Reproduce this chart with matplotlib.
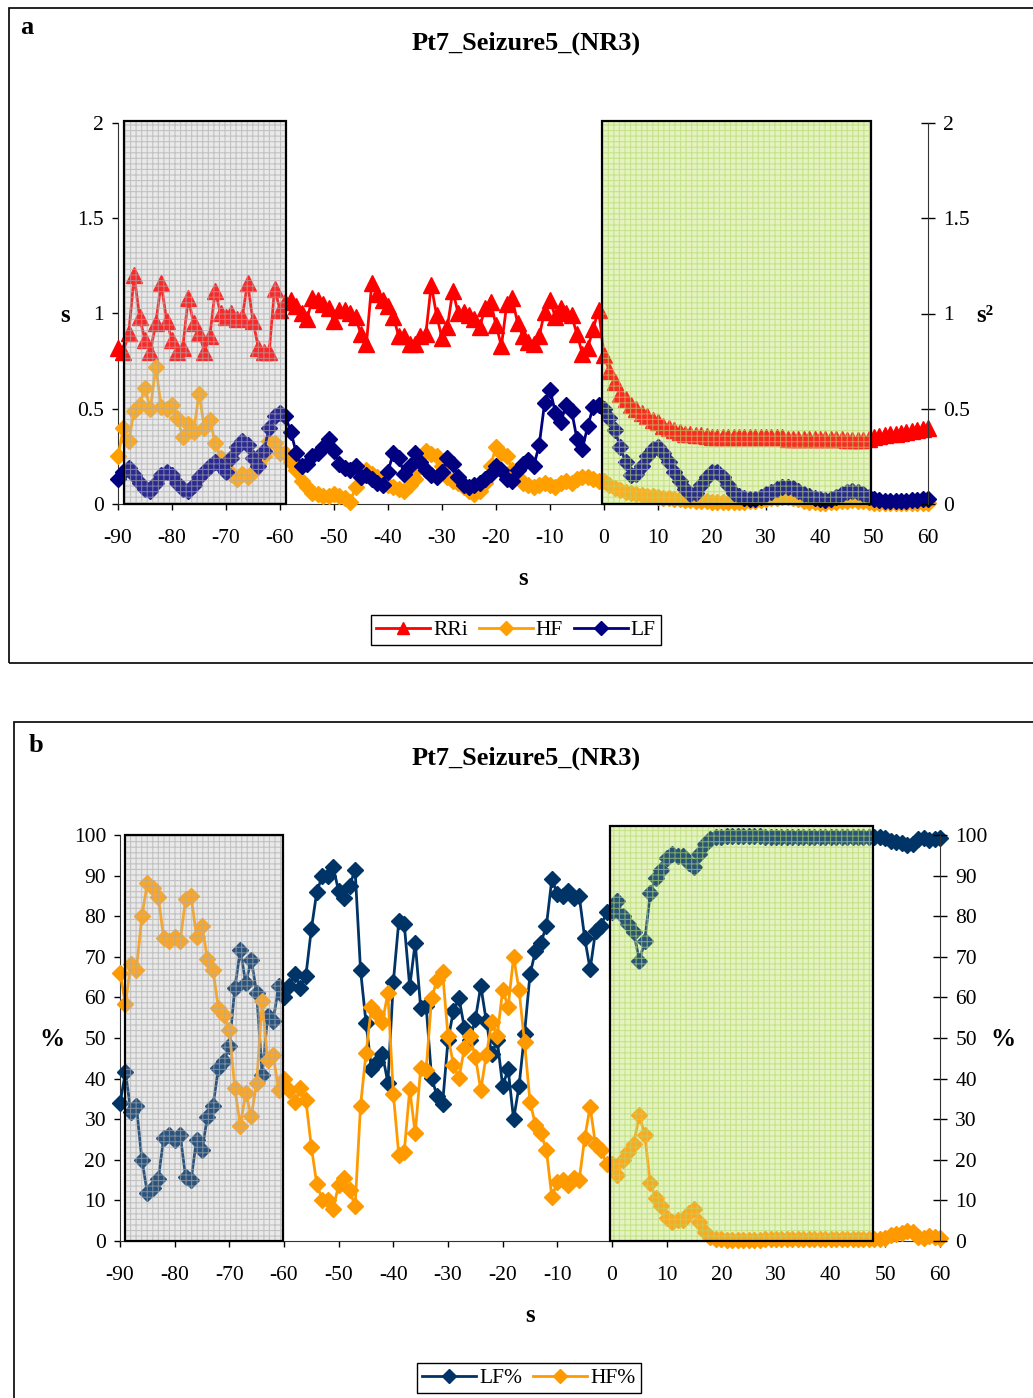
import matplotlib
matplotlib.use("Agg")
import matplotlib.pyplot as plt
import matplotlib.patches as mpatches

plt.rcParams['font.family'] = ['Liberation Serif', 'DejaVu Serif']
plt.rcParams['hatch.linewidth'] = 0.8

# time axis (s), one sample per second
seconds = list(range(-90, 61))

# panel a: RR interval (s) and spectral powers HF / LF (s^2)
rri = [0.82, 0.80, 0.90, 1.20, 0.98, 0.86, 0.80, 0.95, 1.16, 0.96,
       0.86, 0.80, 0.82, 1.08, 0.95, 0.90, 0.80, 0.88, 1.12, 1.00,
       0.98, 1.00, 0.97, 0.98, 1.16, 0.96, 0.82, 0.80, 0.80, 1.13,
       1.02,
       1.06, 1.07, 1.04, 1.00, 0.97, 1.08, 1.07, 1.05, 1.03, 0.96,
       1.02, 1.02, 1.00, 0.98, 0.89, 0.84, 1.16, 1.10, 1.07, 1.04,
       0.98, 0.88, 0.88, 0.84, 0.84, 0.88, 0.89, 1.15, 0.99, 0.87,
       0.93, 1.12, 1.00, 1.01, 0.99, 0.97, 0.93, 1.03, 1.06, 0.94,
       0.83, 1.05, 1.08, 0.95, 0.88, 0.85, 0.84, 0.88, 1.01, 1.07,
       0.98, 1.03, 1.00, 0.99, 0.89, 0.79, 0.82, 0.92, 1.02,
       0.78, 0.70, 0.64, 0.58, 0.55, 0.52, 0.50, 0.48, 0.46, 0.44,
       0.43, 0.41, 0.40, 0.39, 0.38, 0.37, 0.37, 0.36, 0.36, 0.355,
       0.35, 0.35, 0.35, 0.35, 0.35, 0.35, 0.35, 0.35, 0.35, 0.35,
       0.35, 0.35, 0.35, 0.35, 0.34, 0.34, 0.34, 0.34, 0.34, 0.34,
       0.34, 0.34, 0.34, 0.34, 0.34, 0.335, 0.335, 0.335, 0.335, 0.34,
       0.35, 0.355, 0.36, 0.365, 0.37, 0.375, 0.38, 0.385, 0.39, 0.395, 0.40]

hf = [0.25, 0.40, 0.33, 0.49, 0.52, 0.61, 0.50, 0.72, 0.51, 0.50,
      0.52, 0.45, 0.35, 0.42, 0.38, 0.58, 0.40, 0.44, 0.32, 0.24,
      0.19, 0.16, 0.13, 0.16, 0.14, 0.17, 0.21, 0.25, 0.33, 0.32,
      0.27,
      0.27, 0.22, 0.18, 0.12, 0.09, 0.06, 0.05, 0.04, 0.04, 0.05,
      0.04, 0.03, 0.01, 0.09, 0.14, 0.18, 0.16, 0.14, 0.12, 0.10,
      0.09, 0.08, 0.07, 0.10, 0.13, 0.20, 0.28, 0.26, 0.25, 0.20,
      0.14, 0.12, 0.11, 0.09, 0.07, 0.05, 0.07, 0.11, 0.20, 0.30,
      0.27, 0.25, 0.18, 0.14, 0.11, 0.10, 0.09, 0.10, 0.11, 0.10,
      0.09, 0.11, 0.12, 0.11, 0.13, 0.14, 0.14, 0.13, 0.12,
      0.12, 0.10, 0.085, 0.075, 0.065, 0.058, 0.052, 0.047, 0.043, 0.040,
      0.037, 0.034, 0.030, 0.028, 0.025, 0.022, 0.020, 0.018, 0.016, 0.014,
      0.013, 0.012, 0.012, 0.012, 0.012, 0.012, 0.013, 0.014, 0.016, 0.020,
      0.025, 0.030, 0.033, 0.035, 0.035, 0.032, 0.025, 0.018, 0.012, 0.008,
      0.006, 0.006, 0.008, 0.012, 0.016, 0.018, 0.020, 0.018, 0.014, 0.010,
      0.006, 0.004, 0.003, 0.003, 0.003, 0.003, 0.004, 0.004, 0.005, 0.005, 0.006]

lf = [0.13, 0.17, 0.19, 0.15, 0.11, 0.08, 0.07, 0.11, 0.15, 0.17,
      0.15, 0.11, 0.08, 0.07, 0.10, 0.14, 0.17, 0.20, 0.22, 0.20,
      0.17, 0.24, 0.30, 0.33, 0.31, 0.24, 0.20, 0.28, 0.40, 0.46,
      0.48,
      0.46, 0.38, 0.27, 0.20, 0.21, 0.25, 0.27, 0.30, 0.34, 0.28,
      0.21, 0.19, 0.18, 0.20, 0.14, 0.15, 0.13, 0.11, 0.10, 0.17,
      0.27, 0.24, 0.16, 0.20, 0.27, 0.22, 0.18, 0.15, 0.14, 0.17,
      0.24, 0.21, 0.14, 0.10, 0.09, 0.10, 0.11, 0.13, 0.16, 0.20,
      0.18, 0.13, 0.12, 0.18, 0.21, 0.23, 0.20, 0.31, 0.53, 0.60,
      0.48, 0.43, 0.52, 0.49, 0.34, 0.29, 0.41, 0.51, 0.52,
      0.50, 0.45, 0.39, 0.30, 0.22, 0.15, 0.16, 0.20, 0.25, 0.29,
      0.30, 0.27, 0.22, 0.17, 0.12, 0.08, 0.05, 0.06, 0.10, 0.14,
      0.17, 0.17, 0.14, 0.10, 0.06, 0.04, 0.03, 0.025, 0.025, 0.035,
      0.05, 0.065, 0.08, 0.09, 0.09, 0.085, 0.07, 0.055, 0.04, 0.03,
      0.025, 0.02, 0.025, 0.035, 0.05, 0.065, 0.07, 0.065, 0.05, 0.035,
      0.025, 0.02, 0.018, 0.015, 0.015, 0.015, 0.018, 0.02, 0.022, 0.025, 0.025]

# panel b: normalised powers (%)
lf_pct = [33.9, 41.6, 31.7, 33.2, 20.0, 11.9, 13.1, 15.3, 25.4, 26.2,
          25.0, 26.2, 15.8, 15.0, 25.0, 22.4, 30.6, 33.2, 42.6, 44.3,
          48.0, 62.3, 71.6, 63.5, 69.3, 61.1, 41.0, 55.3, 54.1, 62.7,
          60.2,
          62.8, 65.7, 62.4, 65.3, 76.8, 86.0, 89.9, 89.9, 92.0, 86.2,
          84.6, 87.4, 91.5, 66.7, 53.8, 42.3, 44.0, 46.0, 39.0, 63.8,
          78.8, 78.0, 62.6, 73.5, 57.5, 57.9, 40.2, 35.7, 33.7, 49.5,
          56.7, 59.9, 52.5, 49.5, 54.6, 62.8, 54.2, 46.0, 49.5, 38.2,
          42.3, 30.0, 38.2, 51.1, 65.7, 71.4, 73.5, 77.6, 89.2, 85.4,
          85.0, 86.2, 84.6, 85.0, 74.7, 66.9, 76.4, 77.6, 81.0,
          81.0, 83.7, 80.0, 78.0, 76.0, 69.0, 73.9, 85.8, 89.5, 91.5,
          94.4, 95.2, 94.8, 94.8, 93.2, 92.0, 95.2, 97.7, 98.9, 99.4,
          99.6, 99.7, 99.7, 99.7, 99.7, 99.7, 99.7, 99.7, 99.6, 99.6,
          99.5, 99.5, 99.4, 99.4, 99.5, 99.5, 99.6, 99.6, 99.6, 99.6,
          99.6, 99.5, 99.5, 99.4, 99.4, 99.4, 99.5, 99.5, 99.6, 99.6,
          99.2, 98.6, 98.3, 98.0, 97.6, 97.8, 99.0, 99.3, 98.8, 98.9, 99.2]

hf_pct = [66.1, 58.4, 68.3, 66.8, 80.0, 88.1, 86.9, 84.7, 74.6, 73.8,
          75.0, 73.8, 84.2, 85.0, 75.0, 77.6, 69.4, 66.8, 57.4, 55.7,
          52.0, 37.7, 28.4, 36.5, 30.7, 38.9, 59.0, 44.7, 45.9, 37.3,
          39.8,
          37.2, 34.3, 37.6, 34.7, 23.2, 14.0, 10.1, 10.1, 8.0, 13.8,
          15.4, 12.6, 8.5, 33.3, 46.2, 57.7, 56.0, 54.0, 61.0, 36.2,
          21.2, 22.0, 37.4, 26.5, 42.5, 42.1, 59.8, 64.3, 66.3, 50.5,
          43.3, 40.1, 47.5, 50.5, 45.4, 37.2, 45.8, 54.0, 50.5, 61.8,
          57.7, 70.0, 61.8, 48.9, 34.3, 28.6, 26.5, 22.4, 10.8, 14.6,
          15.0, 13.8, 15.4, 15.0, 25.3, 33.1, 23.6, 22.4, 19.0,
          19.0, 16.3, 20.0, 22.0, 24.0, 31.0, 26.1, 14.2, 10.5, 8.5,
          5.6, 4.8, 5.2, 5.2, 6.8, 8.0, 4.8, 2.3, 1.1, 0.6,
          0.4, 0.3, 0.3, 0.3, 0.3, 0.3, 0.3, 0.3, 0.4, 0.4,
          0.5, 0.5, 0.6, 0.6, 0.5, 0.5, 0.4, 0.4, 0.4, 0.4,
          0.4, 0.5, 0.5, 0.6, 0.6, 0.6, 0.5, 0.5, 0.4, 0.4,
          0.8, 1.4, 1.7, 2.0, 2.4, 2.2, 1.0, 0.7, 1.2, 1.1, 0.8]

# analysed windows (s): pre-ictal reference and post-seizure-onset window
grey_window_a = (-88.9, -58.9)
green_window_a = (-0.4, 49.4)
grey_window_b = (-89.0, -60.2)
green_window_b = (-0.4, 47.7)

W, H = 1033, 1398
fig = plt.figure(figsize=(W / 100, H / 100), dpi=100)

LW = 2.0
TRI = 11
DIA = 8.5
FS_TICK = 15.5
FS_LAB = 18


def fx(px):
    return px / W


def fy(py):
    return 1 - py / H


def window(ax, span, top, fill, grid):
    x0, x1 = span
    # opaque fill under the data
    ax.add_patch(mpatches.Rectangle((x0, 0), x1 - x0, top, facecolor=fill,
                                    edgecolor='none', zorder=0.5, clip_on=False))
    # checked layer drawn over the data
    ax.add_patch(mpatches.Rectangle((x0, 0), x1 - x0, top,
                                    facecolor=(*matplotlib.colors.to_rgb(fill), 0.18),
                                    edgecolor=(*matplotlib.colors.to_rgb(grid), 0.6), linewidth=0,
                                    hatch='+++', zorder=10, clip_on=False))
    ax.add_patch(mpatches.Rectangle((x0, 0), x1 - x0, top, facecolor='none',
                                    edgecolor='black', linewidth=1.6, zorder=11, clip_on=False))


def style_axes(ax, ax2, yticks, yticklabels):
    ax.set_xlim(-90, 60)
    ax.set_xticks(range(-90, 61, 10))
    ax.set_xticklabels([str(v) for v in range(-90, 61, 10)])
    ax.set_yticks(yticks)
    ax.set_yticklabels(yticklabels)
    ax.tick_params(axis='x', direction='out', length=4, width=1, pad=14, labelsize=FS_TICK)
    ax.tick_params(axis='y', direction='out', length=4, width=1, pad=6, labelsize=FS_TICK)
    ax.spines['top'].set_visible(False)
    ax.spines['right'].set_visible(False)
    for s in ('left', 'bottom'):
        ax.spines[s].set_color('#333333')
    ax2.set_ylim(ax.get_ylim())
    ax2.set_yticks(yticks)
    ax2.set_yticklabels(yticklabels)
    ax2.tick_params(axis='y', direction='inout', length=10, width=1, pad=6, labelsize=FS_TICK)
    ax2.spines['top'].set_visible(False)
    ax2.spines['left'].set_visible(False)
    ax2.spines['bottom'].set_visible(False)
    ax2.spines['right'].set_color('#333333')


# ---------------- panel a ----------------
axa = fig.add_axes([fx(118), fy(504), fx(928) - fx(118), fy(123) - fy(504)])
axa.set_ylim(0, 2)
axa.patch.set_alpha(0)

window(axa, grey_window_a, 2.01, '#e9e9e9', '#a9a9a9')
window(axa, green_window_a, 2.01, '#e4f3c0', '#b3d868')

l_rri, = axa.plot(seconds, rri, color='#ff0000', lw=LW, marker='^', ms=TRI,
                  mec='#ff0000', clip_on=False, zorder=3, label='RRi')
l_hf, = axa.plot(seconds, hf, color='#ffa000', lw=LW, marker='D', ms=DIA,
                 mec='#ffa000', clip_on=False, zorder=4, label='HF')
l_lf, = axa.plot(seconds, lf, color='#000080', lw=LW, marker='D', ms=DIA,
                 mec='#000080', clip_on=False, zorder=5, label='LF')

axa2 = axa.twinx()
style_axes(axa, axa2, [0, 0.5, 1, 1.5, 2], ['0', '0.5', '1', '1.5', '2'])

axa.legend(handles=[l_rri, l_hf, l_lf], loc='center',
           bbox_to_anchor=(fx(516), fy(630)), bbox_transform=fig.transFigure,
           ncol=3, fontsize=15.5, frameon=True, fancybox=False, edgecolor='black',
           framealpha=1, handlelength=2.5, handletextpad=0.15, columnspacing=0.5,
           borderpad=0.25, borderaxespad=0, markerscale=0.85)

fig.text(fx(20), fy(28), 'a', fontsize=19, weight='bold', ha='left', va='center')
fig.text(fx(526), fy(43), 'Pt7_Seizure5_(NR3)', fontsize=19, weight='bold', ha='center', va='center')
fig.text(fx(65), fy(315), 's', fontsize=FS_LAB, weight='bold', ha='center', va='center')
fig.text(fx(985), fy(315), 's²', fontsize=FS_LAB, weight='bold', ha='center', va='center')
fig.text(fx(523), fy(578), 's', fontsize=FS_LAB, weight='bold', ha='center', va='center')

# ---------------- panel b ----------------
axb = fig.add_axes([fx(120), fy(1241), fx(940) - fx(120), fy(835) - fy(1241)])
axb.set_ylim(0, 100)
axb.patch.set_alpha(0)

window(axb, grey_window_b, 100, '#e9e9e9', '#a9a9a9')
window(axb, green_window_b, 102.2, '#e4f3c0', '#b3d868')

l_lfp, = axb.plot(seconds, lf_pct, color='#003366', lw=LW, marker='D', ms=DIA,
                  mec='#003366', clip_on=False, zorder=4, label='LF%')
l_hfp, = axb.plot(seconds, hf_pct, color='#ff9900', lw=LW, marker='D', ms=DIA,
                  mec='#ff9900', clip_on=False, zorder=5, label='HF%')

axb2 = axb.twinx()
style_axes(axb, axb2, list(range(0, 101, 10)), [str(v) for v in range(0, 101, 10)])

axb.legend(handles=[l_lfp, l_hfp], loc='center',
           bbox_to_anchor=(fx(529), fy(1378)), bbox_transform=fig.transFigure,
           ncol=2, fontsize=15.5, frameon=True, fancybox=False, edgecolor='black',
           framealpha=1, handlelength=2.5, handletextpad=0.15, columnspacing=0.5,
           borderpad=0.25, borderaxespad=0, markerscale=0.85)

fig.text(fx(29), fy(745), 'b', fontsize=19, weight='bold', ha='left', va='center')
fig.text(fx(526), fy(758), 'Pt7_Seizure5_(NR3)', fontsize=19, weight='bold', ha='center', va='center')
fig.text(fx(52), fy(1040), '%', fontsize=FS_LAB, weight='bold', ha='center', va='center')
fig.text(fx(1003), fy(1040), '%', fontsize=FS_LAB, weight='bold', ha='center', va='center')
fig.text(fx(530), fy(1315), 's', fontsize=FS_LAB, weight='bold', ha='center', va='center')

# panel frames
fig.add_artist(mpatches.Rectangle((fx(9), fy(663)), 1.2, fy(8) - fy(663),
                                  transform=fig.transFigure, facecolor='none',
                                  edgecolor='black', linewidth=1.2))
fig.add_artist(mpatches.Rectangle((fx(14), fy(1410)), 1.2, fy(722) - fy(1410),
                                  transform=fig.transFigure, facecolor='none',
                                  edgecolor='black', linewidth=1.2))

fig.savefig('out.png', dpi=100)
